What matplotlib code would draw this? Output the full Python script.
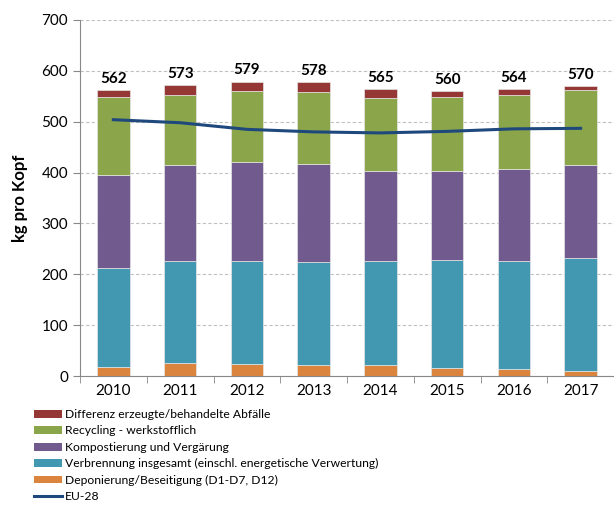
import numpy as np
import matplotlib
matplotlib.use("Agg")
import matplotlib.pyplot as plt
from matplotlib.patches import Patch
from matplotlib.lines import Line2D

plt.rcParams['font.family'] = ['Lato', 'DejaVu Sans']

# data (kg pro Kopf)
years = ['2010', '2011', '2012', '2013', '2014', '2015', '2016', '2017']
deponierung = [17, 26, 24, 21, 22, 15, 13, 10]
verbrennung = [196, 200, 202, 203, 205, 213, 213, 222]
kompost = [182, 189, 195, 193, 176, 175, 181, 183]
recycling = [153, 137, 140, 142, 144, 145, 145, 147]
differenz = [14, 21, 18, 19, 18, 12, 12, 8]
totals = [562, 573, 579, 578, 565, 560, 564, 570]
eu28 = [504, 498, 485, 480, 478, 481, 486, 487]

labels = ['Differenz erzeugte/behandelte Abfälle',
          'Recycling - werkstofflich',
          'Kompostierung und Vergärung',
          'Verbrennung insgesamt (einschl. energetische Verwertung)',
          'Deponierung/Beseitigung (D1-D7, D12)',
          'EU-28']
colors = ['#953735', '#8BA54A', '#715A8E', '#4298B0', '#DB843D']
line_col = '#1F497D'

fig = plt.figure(figsize=(6.14, 5.05), dpi=100)
ax = fig.add_axes([0.1303, 0.2554, 0.8697, 0.7050])

x = np.arange(len(years))
w = 0.49
series = [deponierung, verbrennung, kompost, recycling, differenz]
scol = colors[::-1]
bottom = np.zeros(len(years))
for vals, c in zip(series, scol):
    ax.bar(x, vals, w, bottom=bottom, color=c, edgecolor='#e6e6e6', linewidth=0.5, zorder=2)
    bottom += np.array(vals)

ax.plot(x, eu28, color=line_col, lw=2.2, zorder=3)

for xi, t in zip(x, totals):
    ax.text(xi, t + 8, str(t), ha='center', va='bottom', fontsize=11, fontweight='bold')

ax.set_ylim(0, 700)
ax.set_xlim(-0.5, 7.37)
ax.set_yticks(range(0, 701, 100))
ax.yaxis.grid(True, linestyle=(0, (3, 2)), color='#c0c0c0', lw=0.8, zorder=0)
ax.set_axisbelow(True)

ax.set_xticks(x)
ax.set_xticklabels(years, fontsize=11)
ax.set_xticks(np.arange(-0.5, 7.6, 1), minor=True)
ax.tick_params(axis='x', which='major', length=0, pad=6)
ax.tick_params(axis='x', which='minor', length=5, color='#888888', direction='out')
ax.tick_params(axis='y', length=5, color='#888888', labelsize=11)

for s in ['top', 'right']:
    ax.spines[s].set_visible(False)
for s in ['left', 'bottom']:
    ax.spines[s].set_color('#888888')

ax.set_ylabel('kg pro Kopf', fontsize=12, fontweight='bold', labelpad=10)

handles = [Patch(facecolor=c) for c in colors] + [Line2D([], [], color=line_col, lw=2.2)]
fig.legend(handles, labels, loc='upper left', bbox_to_anchor=(0.055, 0.19),
           frameon=False, fontsize=8.7, handlelength=2.3, handleheight=0.6,
           labelspacing=0.45, handletextpad=0.3, borderpad=0, borderaxespad=0)

fig.savefig('out.png', dpi=100)
